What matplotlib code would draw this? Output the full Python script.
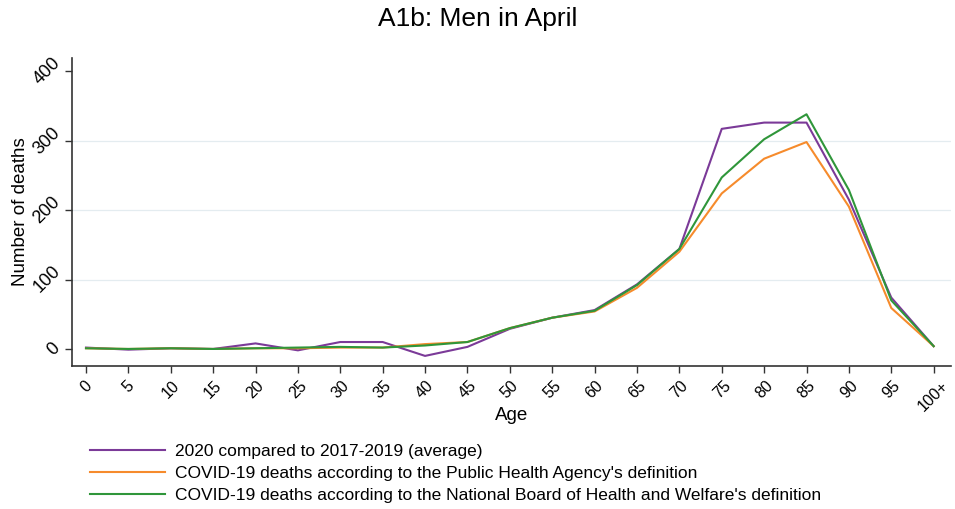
import numpy as np
import matplotlib.pyplot as plt
from matplotlib.lines import Line2D

plt.rcParams['font.family'] = ['Liberation Sans', 'DejaVu Sans']

ages = ['0', '5', '10', '15', '20', '25', '30', '35', '40', '45', '50',
        '55', '60', '65', '70', '75', '80', '85', '90', '95', '100+']
excess = [2, -1, 1, 0, 8, -2, 10, 10, -10, 3, 29,
          45, 56, 93, 144, 317, 326, 326, 215, 74, 4]
pha = [1, 0, 1, 0, 1, 1, 2, 2, 7, 10, 30,
       45, 54, 88, 140, 224, 274, 298, 205, 59, 4]
nbhw = [1, 0, 1, 0, 1, 2, 3, 2, 5, 10, 30,
        45, 55, 92, 144, 247, 302, 338, 229, 70, 4]

labels = ["2020 compared to 2017-2019 (average)",
          "COVID-19 deaths according to the Public Health Agency's definition",
          "COVID-19 deaths according to the National Board of Health and Welfare's definition"]
colors = ['#7b3a98', '#f68b2c', '#2f963a']

fig = plt.figure(figsize=(9.55, 5.09), dpi=100)
ax = fig.add_axes([0.0754, 0.281, 0.92, 0.605])

x = np.arange(len(ages))
for ys, c in zip([excess, pha, nbhw], colors):
    ax.plot(x, ys, color=c, lw=1.5)

ax.set_xlim(-0.33, 20.4)
ax.set_ylim(-24.5, 419)
ax.set_xticks(x)
ax.set_xticklabels(ages, rotation=45, fontsize=11.5)
ax.set_yticks([0, 100, 200, 300, 400])
ax.set_yticklabels(['0', '100', '200', '300', '400'], rotation=45, fontsize=13,
                   va='center')
ax.tick_params(axis='both', direction='out', length=5, width=1, color='#333333')
ax.tick_params(axis='y', pad=1)
for t in ax.get_xticklabels():
    t.set_ha('center')
for yv in [100, 200, 300]:
    ax.axhline(yv, color='#e4ecf0', lw=0.9, zorder=0)
for s in ['top', 'right']:
    ax.spines[s].set_visible(False)
for s in ['left', 'bottom']:
    ax.spines[s].set_color('#333333')
    ax.spines[s].set_linewidth(1.2)

ax.set_xlabel('Age', fontsize=13.5, labelpad=-5)
ax.set_ylabel('Number of deaths', fontsize=13.5, labelpad=1)

fig.text(0.5, 0.962, 'A1b: Men in April', ha='center', va='center', fontsize=19)

handles = [Line2D([0], [0], color=c, lw=1.5) for c in colors]
fig.legend(handles, labels, loc='upper left', bbox_to_anchor=(0.087, 0.141),
           frameon=False, fontsize=12.5, handlelength=4.3, handletextpad=0.57,
           labelspacing=0.39, borderaxespad=0)

fig.savefig('out.png', dpi=100)
